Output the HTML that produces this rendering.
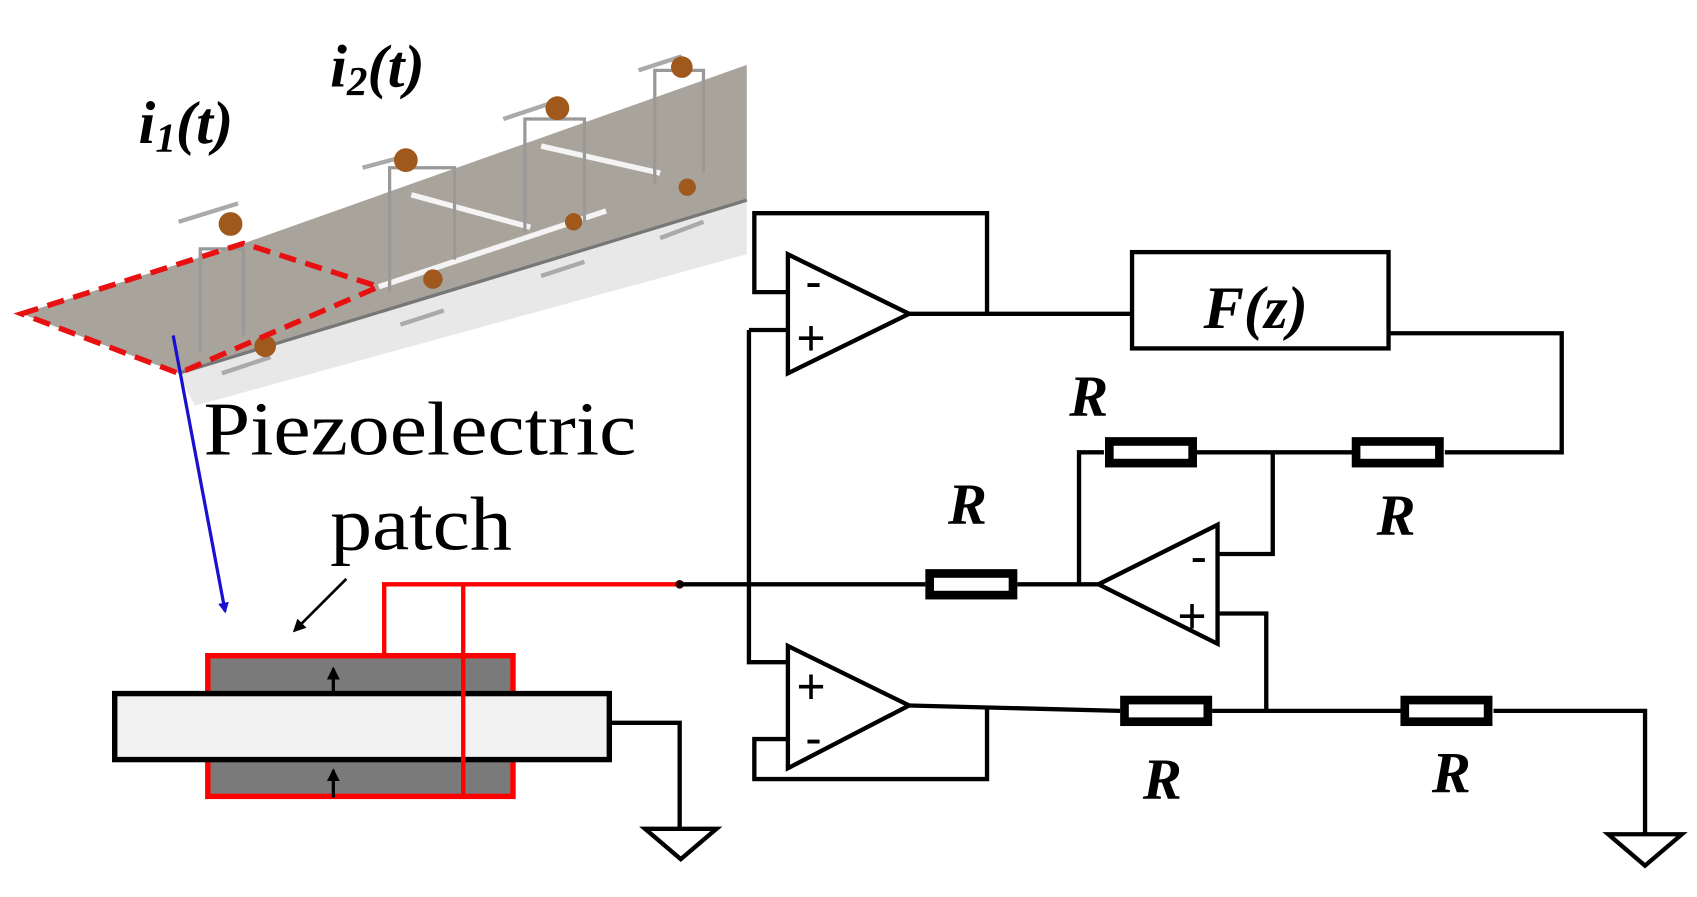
<!DOCTYPE html>
<html><head><style>html,body{margin:0;padding:0;background:#fff;width:1697px;height:897px;overflow:hidden}svg{display:block}</style></head>
<body>
<svg width="1697" height="897" viewBox="0 0 1568 829" preserveAspectRatio="none" xmlns="http://www.w3.org/2000/svg">
<defs>
<marker id="bh" markerWidth="10" markerHeight="10" refX="8" refY="5" orient="auto" markerUnits="userSpaceOnUse"><path d="M0,0 L10,5 L0,10 z" fill="#1a10d0"/></marker>
<marker id="kh" markerWidth="12" markerHeight="12" refX="10" refY="6" orient="auto" markerUnits="userSpaceOnUse"><path d="M0,0 L12,6 L0,12 z" fill="#000"/></marker>
</defs>
<rect width="1568" height="829" fill="#fff"/>
<!-- 3D strip -->
<polygon points="165,345 690,180 690,235 180,375" fill="#e8e8e8"/>
<polygon points="20,290 225,225 690,60 690,185 165,345" fill="#a9a49b"/>
<g stroke="#f4f4f4" stroke-width="5" fill="none">
<line x1="350" y1="265" x2="560" y2="195"/>
<line x1="380" y1="180" x2="490" y2="210"/>
<line x1="500" y1="135" x2="610" y2="160"/>
</g>
<line x1="165" y1="345" x2="690" y2="185" stroke="#777" stroke-width="3"/>
<g stroke="#999" stroke-width="3" fill="none">
<path d="M185,325 V230 H225 V310"/>
<path d="M360,270 V155 H420 V240"/>
<path d="M485,215 V110 H540 V205"/>
<path d="M605,170 V65 H650 V160"/>
</g>
<g stroke="#aaa" stroke-width="4">
<line x1="165" y1="205" x2="220" y2="188"/><line x1="335" y1="155" x2="380" y2="143"/>
<line x1="465" y1="110" x2="510" y2="95"/><line x1="590" y1="65" x2="630" y2="52"/>
<line x1="205" y1="345" x2="250" y2="330"/><line x1="370" y1="300" x2="410" y2="287"/>
<line x1="500" y1="255" x2="540" y2="242"/><line x1="610" y1="220" x2="650" y2="205"/>
</g>
<g fill="#a0581c">
<circle cx="213" cy="207" r="11"/><circle cx="375" cy="148" r="11"/><circle cx="515" cy="100" r="11"/><circle cx="630" cy="62" r="10"/>
<circle cx="245" cy="320" r="10"/><circle cx="400" cy="258" r="9"/><circle cx="530" cy="205" r="8"/><circle cx="635" cy="173" r="8"/>
</g>
<polygon points="20,290 225,225 350,265 165,345" fill="none" stroke="#e81010" stroke-width="5" stroke-dasharray="16,9"/>
<text x="128" y="132" font-family="Liberation Serif, serif" font-size="56" font-weight="bold" font-style="italic">i<tspan font-size="38" dy="8">1</tspan><tspan dy="-8">(t)</tspan></text>
<text x="305" y="80" font-family="Liberation Serif, serif" font-size="56" font-weight="bold" font-style="italic">i<tspan font-size="38" dy="8">2</tspan><tspan dy="-8">(t)</tspan></text>
<!-- arrows -->
<line x1="160" y1="310" x2="208" y2="565" stroke="#1a10d0" stroke-width="3" marker-end="url(#bh)"/>
<line x1="320" y1="535" x2="272" y2="583" stroke="#000" stroke-width="2.5" marker-end="url(#kh)"/>
<text x="188" y="420" font-family="Liberation Serif, serif" font-size="70" textLength="400" lengthAdjust="spacingAndGlyphs">Piezoelectric</text>
<text x="305" y="508" font-family="Liberation Serif, serif" font-size="70" textLength="168" lengthAdjust="spacingAndGlyphs">patch</text>
<!-- piezo -->
<rect x="192" y="606" width="282" height="130" fill="#7a7a7a" stroke="#ff0000" stroke-width="5"/>
<rect x="106" y="641" width="457" height="61" fill="#f1f1f1" stroke="#000" stroke-width="5"/>
<g stroke="#000" stroke-width="3"><line x1="308" y1="640" x2="308" y2="618" marker-end="url(#kh)"/><line x1="308" y1="737" x2="308" y2="712" marker-end="url(#kh)"/></g>
<g stroke="#ff0000" stroke-width="4" fill="none"><path d="M355,606 V540 H628"/><path d="M428,540 V736"/></g>
<circle cx="628" cy="540" r="4" fill="#300"/>
<g stroke="#000" stroke-width="4" fill="none">
<path d="M563,668 H628 V765"/>
<polygon points="596,766 662,766 629,794"/>
<path d="M628,540 H855"/>
<polygon points="728,235 728,345 840,290"/>
<path d="M728,270 H697 V197 H912 V290"/>
<path d="M840,290 H1045"/>
<rect x="1046" y="233" width="237" height="89"/>
<path d="M1283,308 H1443 V418 H1335"/>
<path d="M1250,418 H1105"/>
<path d="M1020,418 H997 V540"/>
<path d="M1176,418 V512 H1125"/>
<path d="M692,305 H728"/>
<path d="M692,305 V612 H728"/>
<polygon points="1125,485 1125,595 1015,540"/>
<path d="M940,540 H1015"/>
<path d="M1125,567 H1170 V657"/>
<polygon points="728,597 728,710 840,652"/>
<path d="M728,683 H697 V720 H912 V654"/>
<path d="M840,652 L1035,657"/>
<path d="M1120,657 H1295"/>
<path d="M1380,657 H1520 V770"/>
<polygon points="1486,771 1554,771 1520,800"/>
</g>
<g fill="#fff" stroke="#000" stroke-width="8">
<rect x="1025" y="408" width="77" height="20"/>
<rect x="1253" y="408" width="77" height="20"/>
<rect x="859" y="530" width="77" height="20"/>
<rect x="1039" y="647" width="77" height="20"/>
<rect x="1298" y="647" width="77" height="20"/>
</g>
<g font-family="Liberation Sans, sans-serif" font-size="46" fill="#000">
<text x="744" y="276">-</text><text x="736" y="328">+</text>
<text x="1100" y="530">-</text><text x="1088" y="585">+</text>
<text x="736" y="650">+</text><text x="744" y="698">-</text>
</g>
<g font-family="Liberation Serif, serif" font-size="54" font-style="italic" font-weight="bold">
<text x="1112" y="303" font-size="56">F(z)</text>
<text x="988" y="384">R</text><text x="876" y="484">R</text><text x="1272" y="494">R</text>
<text x="1056" y="738">R</text><text x="1323" y="732">R</text>
</g>
</svg>
</body></html>
